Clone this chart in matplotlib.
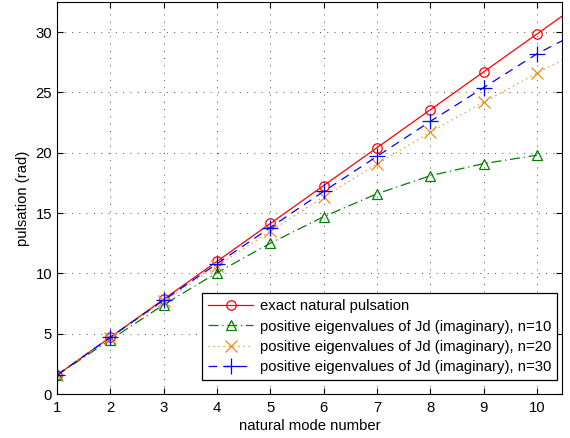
import numpy as np
import matplotlib
matplotlib.use("Agg")
import matplotlib.pyplot as plt

plt.rcParams['font.family'] = ['Liberation Sans', 'DejaVu Sans']

modes_exact = [1, 2, 3, 4, 5, 6, 7, 8, 9, 10, 11]
exact = [1.571, 4.712, 7.854, 10.996, 14.137, 17.279, 20.420, 23.562, 26.704, 29.845, 32.987]

modes_n10 = [1, 2, 3, 4, 5, 6, 7, 8, 9, 10]
eig_n10 = [1.56, 4.50, 7.40, 10.05, 12.50, 14.70, 16.60, 18.10, 19.10, 19.80]

modes_n20 = [1, 2, 3, 4, 5, 6, 7, 8, 9, 10, 11]
eig_n20 = [1.57, 4.65, 7.70, 10.60, 13.50, 16.35, 19.05, 21.70, 24.20, 26.60, 28.90]

modes_n30 = [1, 2, 3, 4, 5, 6, 7, 8, 9, 10, 11]
eig_n30 = [1.57, 4.70, 7.78, 10.80, 13.80, 16.80, 19.70, 22.60, 25.40, 28.20, 30.50]

labels = ['exact natural pulsation',
          'positive eigenvalues of Jd (imaginary), n=10',
          'positive eigenvalues of Jd (imaginary), n=20',
          'positive eigenvalues of Jd (imaginary), n=30']

FS = 10.7

fig = plt.figure(figsize=(5.70, 4.38), dpi=100)
ax = fig.add_axes([57/570, 1 - 394/438, (562-57)/570, (394-2)/438])

ax.plot(modes_exact, exact, color='red', linestyle='-', linewidth=0.9,
        marker='o', markersize=6.8, markerfacecolor='none', markeredgewidth=0.9,
        markevery=list(range(10)), label=labels[0])
ax.plot(modes_n10, eig_n10, color=(0, 0.5, 0), linestyle=(0, (8, 3, 1, 3)), linewidth=0.9,
        marker='^', markersize=7, markerfacecolor='none', markeredgewidth=0.9,
        label=labels[1])
ax.plot(modes_n20, eig_n20, color=(0.93, 0.55, 0.12), linestyle=(0, (1, 3)), linewidth=0.9,
        marker='x', markersize=8.5, markeredgewidth=0.9,
        markevery=list(range(10)), label=labels[2])
ax.plot(modes_n30, eig_n30, color='blue', linestyle=(0, (7, 5)), linewidth=0.9,
        marker='+', markersize=12, markeredgewidth=0.9,
        markevery=list(range(10)), label=labels[3])

ax.set_xlim(1, 10.47)
ax.set_ylim(0, 32.5)
ax.set_xticks(range(1, 11))
ax.set_yticks([0, 5, 10, 15, 20, 25, 30])
ax.grid(True, linestyle=(0, (1, 6.5)), color='black', linewidth=0.7, alpha=0.7)
ax.tick_params(direction='in', labelsize=FS, length=4, top=True, right=True)
ax.tick_params(axis='x', pad=5)
for s in ax.spines.values():
    s.set_linewidth(0.8)

ax.set_xlabel('natural mode number', fontsize=FS, labelpad=3)
ax.set_ylabel('pulsation (rad)', fontsize=FS, labelpad=4)

leg = ax.legend(loc='lower right', fontsize=FS, frameon=True, fancybox=False,
                edgecolor='black', framealpha=1, borderpad=0.4, labelspacing=0.42,
                handlelength=3.0, handletextpad=0.45, borderaxespad=0.0,
                bbox_to_anchor=(0.990, 0.0357))
leg.get_frame().set_linewidth(0.9)

fig.savefig('out.png', dpi=100)
